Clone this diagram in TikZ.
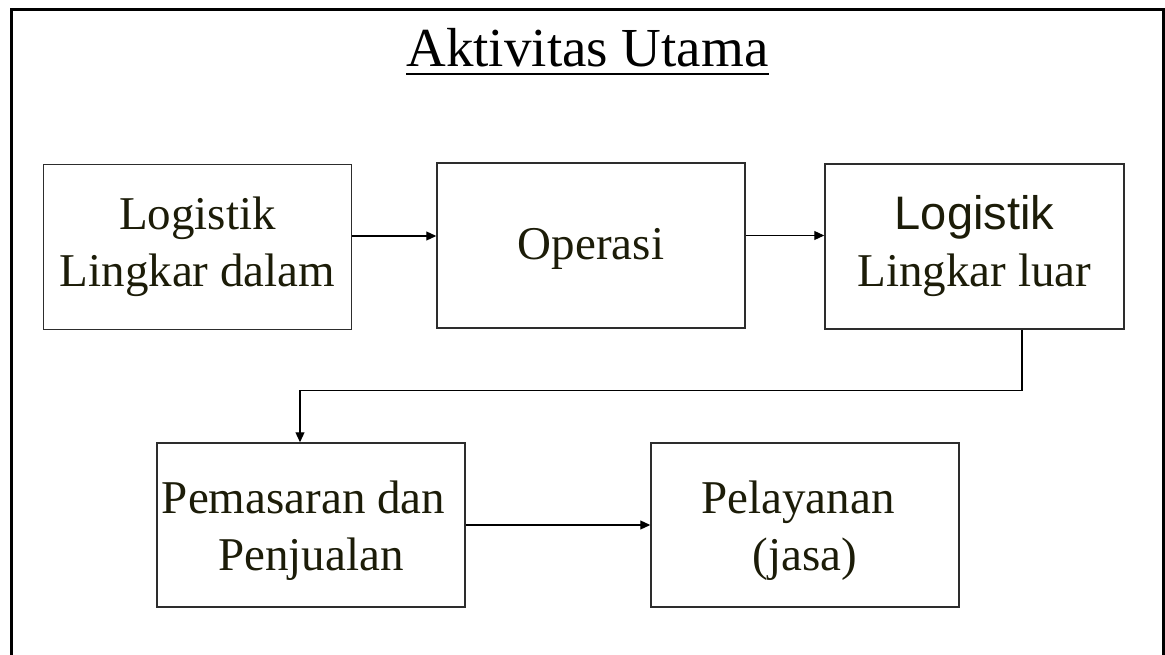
\documentclass[tikz,border=0pt]{standalone}
\usepackage{fontspec}
\setmainfont{Liberation Serif}
\newfontfamily\arialfont{Liberation Sans}
\usetikzlibrary{arrows.meta}
\definecolor{inkdark}{RGB}{28,28,8}
\definecolor{boxline}{RGB}{45,45,45}
% invisible strut that pushes the first line of a box down
\newcommand\lineraise[1]{\rule{0pt}{#1}}
\begin{document}
\begin{tikzpicture}[x=1pt,y=-1pt,
  stagebox/.style={draw=boxline,line width=1.5pt,minimum width=308pt,minimum height=165pt,
    inner sep=0pt,align=center,text=inkdark,font=\fontsize{47}{57}\selectfont},
  flow/.style={line width=1.2pt,-{Triangle[length=10pt,width=9pt]}}]
\useasboundingbox (0,0) rectangle (1165,655);
\fill[white] (0,0) rectangle (1165,655);
% outer frame (open at the bottom)
\draw[line width=3pt] (11,690) -- (11,10) -- (1163,10) -- (1163,690);

% heading
\node[font=\fontsize{55}{62}\selectfont,inner sep=0pt,anchor=base] (title) at (587.5,67) {Aktivitas Utama};
\draw[line width=2pt] ([yshift=-7pt]title.base west) -- ([yshift=-7pt]title.base east);

% stages
\node[stagebox] (b1) at (197.5,247) {Logistik\\Lingkar dalam};
\node[stagebox] (b2) at (591,245.5) {\lineraise{39pt}Operasi};
\node[stagebox,minimum width=299pt] (b3) at (974.5,246.5) {{\arialfont Logistik}\\Lingkar luar};
\node[stagebox,minimum height=164pt] (b4) at (311,525) {\lineraise{43pt}Pemasaran dan\hspace*{15pt}\\Penjualan};
\node[stagebox,minimum height=164pt] (b5) at (805,525) {\lineraise{43pt}Pelayanan\hspace*{14pt}\\(jasa)};

% connectors
\coordinate (a1) at ([yshift=11pt]b1.east);
\draw[flow] (a1) -- (a1 -| b2.west);
\coordinate (a2) at ([yshift=10pt]b2.east);
\draw[flow] (a2) -- (a2 -| b3.west);
\coordinate (d1) at ([xshift=47.5pt]b3.south);
\draw[flow] (d1) -- ++(0,61) -| ([xshift=-11pt]b4.north);
\draw[flow] (b4.east) -- (b5.west);
\end{tikzpicture}
\end{document}
